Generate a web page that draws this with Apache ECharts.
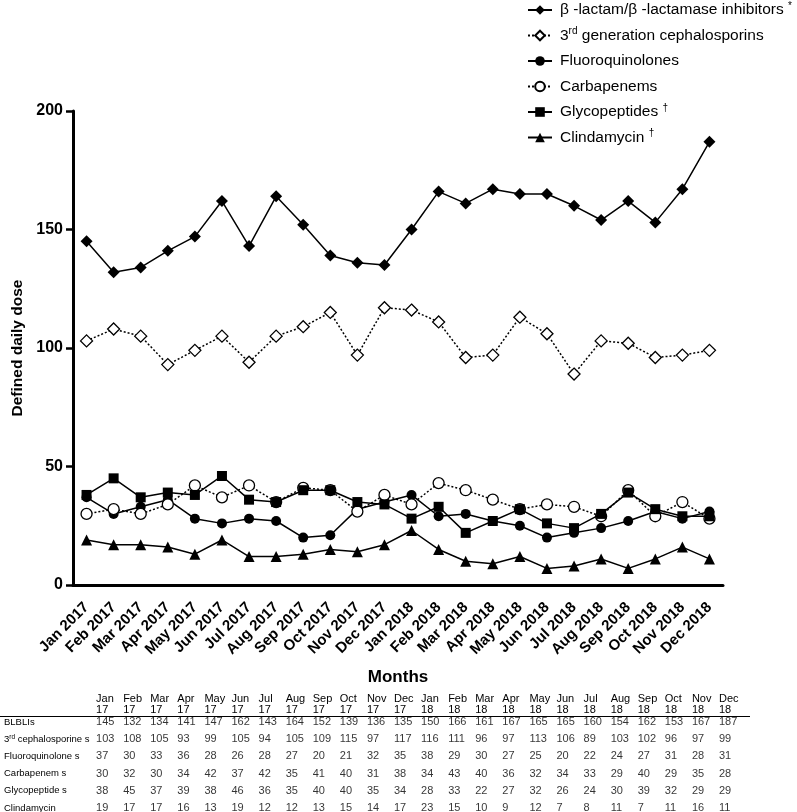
<!DOCTYPE html>
<html><head><meta charset="utf-8">
<script src="https://cdn.jsdelivr.net/npm/echarts@6/dist/echarts.min.js"></script>
<style>html,body{margin:0;padding:0;background:#fff;overflow:hidden}#c{width:797px;height:830px}</style>
</head><body><div id="c"></div>
<script>
const months = ['Jan 2017','Feb 2017','Mar 2017','Apr 2017','May 2017','Jun 2017','Jul 2017','Aug 2017','Sep 2017','Oct 2017','Nov 2017','Dec 2017',
  'Jan 2018','Feb 2018','Mar 2018','Apr 2018','May 2018','Jun 2018','Jul 2018','Aug 2018','Sep 2018','Oct 2018','Nov 2018','Dec 2018'];
const tableHeaders = ['Jan\n17','Feb\n17','Mar\n17','Apr\n17','May\n17','Jun\n17','Jul\n17','Aug\n17','Sep\n17','Oct\n17','Nov\n17','Dec\n17',
  'Jan\n18','Feb\n18','Mar\n18','Apr\n18','May\n18','Jun\n18','Jul\n18','Aug\n18','Sep\n18','Oct\n18','Nov\n18','Dec\n18'];
const blbli = [145,132,134,141,147,162,143,164,152,139,136,135,150,166,161,167,165,165,160,154,162,153,167,187];
const ceph3 = [103,108,105,93,99,105,94,105,109,115,97,117,116,111,96,97,113,106,89,103,102,96,97,99];
const fluoro = [37,30,33,36,28,26,28,27,20,21,32,35,38,29,30,27,25,20,22,24,27,31,28,31];
const carba = [30,32,30,34,42,37,42,35,41,40,31,38,34,43,40,36,32,34,33,29,40,29,35,28];
const glyco = [38,45,37,39,38,46,36,35,40,40,35,34,28,33,22,27,32,26,24,30,39,32,29,29];
const clinda = [19,17,17,16,13,19,12,12,13,15,14,17,23,15,10,9,12,7,8,11,7,11,16,11];
const seriesNames = ['β -lactam/β -lactamase inhibitors','3rd generation cephalosporins','Fluoroquinolones','Carbapenems','Glycopeptides','Clindamycin'];
const legendTexts = ['β -lactam/β -lactamase inhibitors {sup|*}','3{sup|rd} generation cephalosporins','Fluoroquinolones','Carbapenems','Glycopeptides {sup|†}','Clindamycin {sup|†}'];
const tableRowNames = ['BLBLIs','3rd cephalosporine s','Fluoroquinolone s','Carbapenem s','Glycopeptide s','Clindamycin'];
const yMin = 0, yMax = 200, yStep = 50;

const FONT = '"Liberation Sans", Arial, sans-serif';
const allData = [blbli, ceph3, fluoro, carba, glyco, clinda];
const styles = [
  {symbol:'diamond', size:12, fill:'#000', dash:'solid'},
  {symbol:'diamond', size:12, fill:'#fff', dash:[2,2]},
  {symbol:'circle', size:10, fill:'#000', dash:'solid'},
  {symbol:'circle', size:11, fill:'#fff', dash:[2,2]},
  {symbol:'rect', size:10, fill:'#000', dash:'solid'},
  {symbol:'triangle', size:11, fill:'#000', dash:'solid'}
];
const lineSeries = allData.map((d, k) => ({
  name: seriesNames[k], type: 'line', xAxisIndex: 0, yAxisIndex: 0, data: d,
  symbol: styles[k].symbol, symbolSize: styles[k].size, showAllSymbol: true,
  lineStyle: {color:'#000', width:1.5, type: styles[k].dash},
  itemStyle: {color: styles[k].fill, borderColor:'#000', borderWidth: styles[k].fill === '#fff' ? 1.3 : 0},
  emphasis: {disabled: true}, animation: false, z: 3 + k
}));
const tableSeries = allData.map((d, r) => ({
  type: 'scatter', xAxisIndex: 1, yAxisIndex: 1, symbolSize: 0, silent: true, animation: false,
  data: d.map((v, i) => [i, r, v]),
  label: {show: true, position: 'right', distance: 9.5, color:'#000', fontSize: 11, fontFamily: FONT,
    formatter: p => String(p.value[2])}
}));

const chart = echarts.init(document.getElementById('c'), null, {renderer:'canvas'});
chart.setOption({
  animation: false,
  backgroundColor: '#fff',
  textStyle: {fontFamily: FONT, color:'#000'},
  grid: [
    {left: 73, top: 111, width: 650, height: 474},
    {left: 73, top: 713.4, width: 650, height: 103.2}
  ],
  legend: {
    orient: 'vertical', left: 522, top: -4, itemWidth: 24, itemHeight: 12, itemGap: 7.5,
    data: seriesNames,
    textStyle: {fontSize: 15.5, color:'#000', fontFamily: FONT, lineHeight: 18, padding: [0,0,0,3],
      rich: {sup: {fontSize: 10, verticalAlign: 'top', lineHeight: 18, color:'#000', fontFamily: FONT}}},
    formatter: name => legendTexts[seriesNames.indexOf(name)],
    selectedMode: false
  },
  xAxis: [
    {gridIndex: 0, type: 'category', data: months, boundaryGap: true,
     axisLine: {lineStyle: {color:'#000', width: 3}},
     axisTick: {alignWithLabel: true, length: 8, lineStyle: {color:'#000', width: 2.5}},
     axisLabel: {interval: 0, rotate: 45, margin: 20, color:'#000', fontSize: 15, fontWeight: 'bold', fontFamily: FONT},
     name: 'Months', nameLocation: 'middle', nameGap: 84,
     nameTextStyle: {fontSize: 17, fontWeight: 'bold', color:'#000', fontFamily: FONT},
     splitLine: {show: false}},
    {gridIndex: 1, type: 'category', data: tableHeaders, boundaryGap: true, position: 'top',
     axisLine: {show: false}, axisTick: {show: false}, splitLine: {show: false},
     axisLabel: {interval: 0, align: 'left', padding: [0,0,0,9.5], margin: -1.5, color:'#000', fontSize: 11, lineHeight: 10.5, fontFamily: FONT}}
  ],
  yAxis: [
    {gridIndex: 0, type: 'value', min: yMin, max: yMax, interval: yStep,
     axisLine: {show: true, lineStyle: {color:'#000', width: 3}},
     axisTick: {show: true, length: 7, lineStyle: {color:'#000', width: 2.5}},
     axisLabel: {margin: 10, color:'#000', fontSize: 16, fontWeight: 'bold', fontFamily: FONT},
     splitLine: {show: false},
     name: 'Defined daily dose', nameLocation: 'middle', nameGap: 42,
     nameTextStyle: {fontSize: 15.5, fontWeight: 'bold', color:'#000', fontFamily: FONT}},
    {gridIndex: 1, type: 'category', data: tableRowNames, inverse: true, boundaryGap: true,
     axisLine: {show: false}, axisTick: {show: false}, splitLine: {show: false},
     axisLabel: {align: 'left', margin: 69, color:'#000', fontSize: 9.5, fontFamily: FONT,
       formatter: v => v.replace(/^3rd/, '3{sup|rd}'),
       rich: {sup: {fontSize: 6.5, verticalAlign: 'top', color:'#000', fontFamily: FONT}}}}
  ],
  graphic: [
    {type: 'line', silent: true, shape: {x1: 0, y1: 716.5, x2: 750, y2: 716.5}, style: {stroke:'#000', lineWidth: 1}}
  ],
  series: lineSeries.concat(tableSeries)
});
</script></body></html>
